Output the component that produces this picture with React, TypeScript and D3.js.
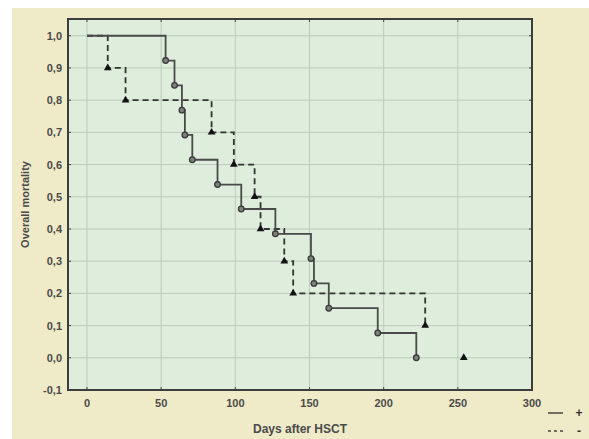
import React, { useEffect, useRef } from "react";
import * as d3 from "d3";

// Solid series (+): event days and cumulative proportion
const plusDays = [0, 53, 59, 64, 66, 71, 88, 104, 127, 151, 153, 163, 196, 222];
const plusValues = [1.0, 0.923, 0.846, 0.769, 0.692, 0.615, 0.538, 0.462, 0.385, 0.308, 0.231, 0.154, 0.077, 0.0];

// Dashed series (-)
const minusDays = [0, 14, 26, 84, 99, 113, 117, 133, 139, 228];
const minusValues = [1.0, 0.9, 0.8, 0.7, 0.6, 0.5, 0.4, 0.3, 0.2, 0.1];
// isolated point of the dashed series
const minusExtraDays = [254];
const minusExtraValues = [0.0];

const xTicks = [0, 50, 100, 150, 200, 250, 300];
const yTicks = [-0.1, 0.0, 0.1, 0.2, 0.3, 0.4, 0.5, 0.6, 0.7, 0.8, 0.9, 1.0];
const legendLabels = ["+", "-"];

export default function App() {
  const ref = useRef<SVGSVGElement>(null);

  useEffect(() => {
    const svg = d3.select(ref.current);
    svg.selectAll("*").remove();
    const W = 589, H = 439;
    const L = 68, R = 532, T = 19, B = 390;
    const x = d3.scaleLinear().domain([-12.8, 300]).range([L, R]);
    const y = d3.scaleLinear().domain([-0.1, 1.052]).range([B, T]);
    const font = "'Liberation Sans', Arial, sans-serif";
    const textColor = "#4a4a4a";

    svg.append("rect").attr("x", 0).attr("y", 0).attr("width", W).attr("height", H).attr("fill", "#ffffff");
    svg.append("rect").attr("x", 12).attr("y", 8).attr("width", W - 12).attr("height", H - 8).attr("fill", "#efebc8");
    svg.append("rect").attr("x", L).attr("y", T).attr("width", R - L).attr("height", B - T).attr("fill", "#deeddc");

    // grid
    const g = svg.append("g");
    xTicks.forEach((t) => {
      if (t >= 300) return;
      g.append("line").attr("x1", x(t)).attr("x2", x(t)).attr("y1", T).attr("y2", B)
        .attr("stroke", "#bccbbb").attr("stroke-width", 1);
    });
    yTicks.forEach((t) => {
      if (t <= -0.1) return;
      g.append("line").attr("x1", L).attr("x2", R).attr("y1", y(t)).attr("y2", y(t))
        .attr("stroke", "#bccbbb").attr("stroke-width", 1);
    });

    // tick marks (inward)
    xTicks.forEach((t) => {
      g.append("line").attr("x1", x(t)).attr("x2", x(t)).attr("y1", B).attr("y2", B - 3).attr("stroke", "#444").attr("stroke-width", 1);
      g.append("line").attr("x1", x(t)).attr("x2", x(t)).attr("y1", T).attr("y2", T + 3).attr("stroke", "#444").attr("stroke-width", 1);
    });
    yTicks.forEach((t) => {
      g.append("line").attr("x1", L).attr("x2", L + 3).attr("y1", y(t)).attr("y2", y(t)).attr("stroke", "#444").attr("stroke-width", 1);
      g.append("line").attr("x1", R).attr("x2", R - 3).attr("y1", y(t)).attr("y2", y(t)).attr("stroke", "#444").attr("stroke-width", 1);
    });

    // tick labels
    xTicks.forEach((t) => {
      svg.append("text").attr("x", x(t)).attr("y", 407).attr("text-anchor", "middle")
        .attr("font-family", font).attr("font-size", 11).attr("font-weight", "bold").attr("fill", textColor)
        .text(String(t));
    });
    yTicks.forEach((t) => {
      svg.append("text").attr("x", 62).attr("y", y(t) + 4).attr("text-anchor", "end")
        .attr("font-family", font).attr("font-size", 11).attr("font-weight", "bold").attr("fill", textColor)
        .text(d3.format(".1f")(t).replace(".", ",").replace("−", "-"));
    });

    // axis titles
    svg.append("text").attr("x", (L + R) / 2).attr("y", 433).attr("text-anchor", "middle")
      .attr("font-family", font).attr("font-size", 12).attr("font-weight", "bold").attr("fill", textColor)
      .text("Days after HSCT");
    svg.append("text").attr("transform", `translate(29,${(T + B) / 2}) rotate(-90)`).attr("text-anchor", "middle")
      .attr("font-family", font).attr("font-size", 11).attr("font-weight", "bold").attr("fill", textColor)
      .text("Overall mortality");

    // step lines
    const plusPts: [number, number][] = plusDays.map((d, i) => [d, plusValues[i]]);
    const minusPts: [number, number][] = minusDays.map((d, i) => [d, minusValues[i]]);
    const step = d3.line<[number, number]>().x((d) => x(d[0])).y((d) => y(d[1])).curve(d3.curveStepAfter);

    svg.append("path").attr("d", step(minusPts)).attr("fill", "none").attr("stroke", "#333")
      .attr("stroke-width", 1.8).attr("stroke-dasharray", "6,4");
    svg.append("path").attr("d", step(plusPts)).attr("fill", "none").attr("stroke", "#4a4a4a")
      .attr("stroke-width", 1.8);

    // markers
    plusPts.slice(1).forEach((p) => {
      svg.append("circle").attr("cx", x(p[0])).attr("cy", y(p[1])).attr("r", 2.8)
        .attr("fill", "#7d827b").attr("stroke", "#3a3a3a").attr("stroke-width", 1.3);
    });
    const tri = d3.symbol().type(d3.symbolTriangle).size(26);
    const triPts = minusPts.slice(1).concat(minusExtraDays.map((d, i) => [d, minusExtraValues[i]] as [number, number]));
    triPts.forEach((p) => {
      svg.append("path").attr("d", tri()).attr("transform", `translate(${x(p[0])},${y(p[1])})`)
        .attr("fill", "#111");
    });

    // frame
    svg.append("rect").attr("x", L).attr("y", T).attr("width", R - L).attr("height", B - T)
      .attr("fill", "none").attr("stroke", "#3d3d3d").attr("stroke-width", 2);

    // legend
    svg.append("line").attr("x1", 548).attr("x2", 563).attr("y1", 413).attr("y2", 413).attr("stroke", "#444").attr("stroke-width", 1.5);
    svg.append("line").attr("x1", 548).attr("x2", 566).attr("y1", 431).attr("y2", 431).attr("stroke", "#444").attr("stroke-width", 1.5).attr("stroke-dasharray", "3,3");
    svg.append("text").attr("x", 579).attr("y", 417).attr("text-anchor", "middle").attr("font-family", font)
      .attr("font-size", 12).attr("font-weight", "bold").attr("fill", "#333").text(legendLabels[0]);
    svg.append("text").attr("x", 579).attr("y", 435).attr("text-anchor", "middle").attr("font-family", font)
      .attr("font-size", 12).attr("font-weight", "bold").attr("fill", "#333").text(legendLabels[1]);
  }, []);

  return (
    <svg ref={ref} width={589} height={439} style={{ position: "absolute", left: 0, top: 0 }} />
  );
}
